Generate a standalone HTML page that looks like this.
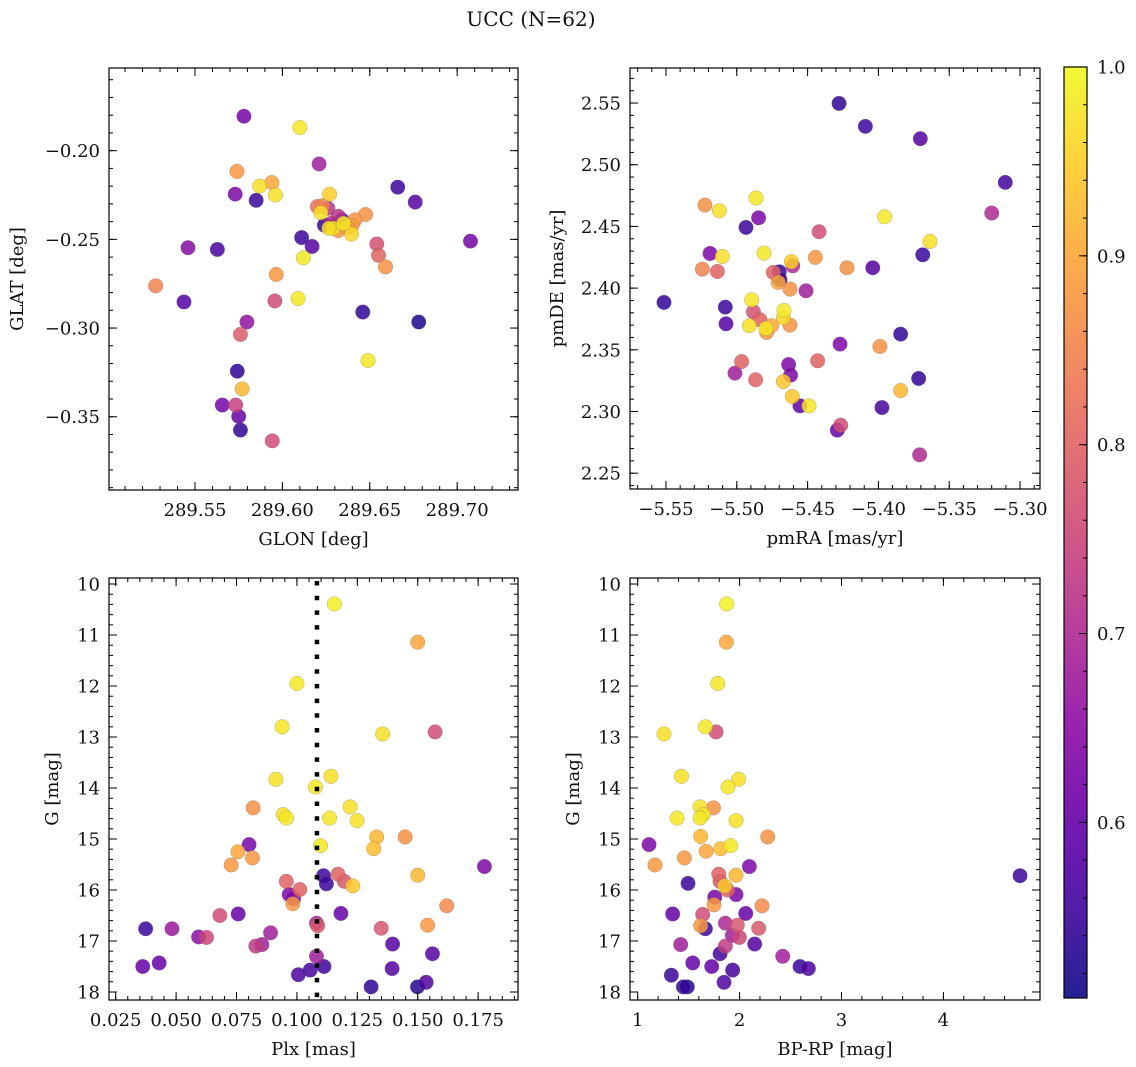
<!DOCTYPE html>
<html><head><meta charset="utf-8">
<style>
html,body{margin:0;padding:0;background:#fff;}
svg{display:block;font-family:"DejaVu Serif","Liberation Serif",serif;}
</style></head>
<body>
<svg id="fig" width="1136" height="1067" viewBox="0 0 1136 1067" xmlns="http://www.w3.org/2000/svg">
<text x="531" y="26" font-size="20" text-anchor="middle" fill="#111">UCC (N=62)</text>
</svg>
<script>
// ---- Panel 1: GLON vs GLAT ----
const glon=[289.578,289.610,289.621,289.574,289.587,289.594,289.596,289.573,289.585,289.666,289.676,289.627,289.620,289.623,289.626,289.622,289.624,289.632,289.634,289.6415,289.6476,289.640,289.628,289.629,289.632,289.635,289.6396,289.611,289.617,289.7076,289.654,289.655,289.659,289.546,289.5628,289.612,289.5965,289.5275,289.5437,289.5957,289.609,289.646,289.678,289.5797,289.576,289.649,289.5742,289.577,289.5656,289.5733,289.575,289.576,289.5942,289.6305,289.6371,289.6266];
const glat=[-0.1806,-0.187,-0.2075,-0.2117,-0.220,-0.218,-0.225,-0.2245,-0.228,-0.2206,-0.229,-0.2245,-0.2315,-0.231,-0.2325,-0.235,-0.242,-0.237,-0.239,-0.239,-0.236,-0.242,-0.241,-0.2438,-0.245,-0.241,-0.247,-0.249,-0.254,-0.251,-0.2526,-0.259,-0.2655,-0.2547,-0.2557,-0.2604,-0.2698,-0.2762,-0.2853,-0.2847,-0.2834,-0.291,-0.2966,-0.2966,-0.3036,-0.3183,-0.3243,-0.3343,-0.3434,-0.3434,-0.3498,-0.3575,-0.3636,-0.2419,-0.2434,-0.2438];
const probTL=[0.62,0.98,0.68,0.88,0.97,0.90,0.97,0.63,0.55,0.55,0.58,0.95,0.82,0.85,0.72,0.97,0.55,0.72,0.55,0.88,0.87,0.88,0.70,0.97,0.88,0.98,0.96,0.55,0.58,0.62,0.77,0.80,0.87,0.64,0.56,0.98,0.88,0.85,0.58,0.76,0.98,0.54,0.52,0.66,0.79,0.98,0.54,0.92,0.62,0.74,0.60,0.54,0.76,0.55,0.88,0.97];
const glonTicks=[289.55,289.60,289.65,289.70];
const glonTickLabels=["289.55","289.60","289.65","289.70"];
const glatTicks=[-0.20,-0.25,-0.30,-0.35];
const glatTickLabels=["−0.20","−0.25","−0.30","−0.35"];
// ---- Panel 2: pmRA vs pmDE ----
const pmra=[-5.4278,-5.4092,-5.3704,-5.3104,-5.3200,-5.5225,-5.5123,-5.4864,-5.4846,-5.4935,-5.3956,-5.4419,-5.3636,-5.3687,-5.5189,-5.5102,-5.4808,-5.4615,-5.4605,-5.4445,-5.4222,-5.4040,-5.5243,-5.5137,-5.4742,-5.4700,-5.4695,-5.4707,-5.4624,-5.4511,-5.5514,-5.5081,-5.5076,-5.4895,-5.4883,-5.4836,-5.4667,-5.4671,-5.4911,-5.4754,-5.4794,-5.4789,-5.4624,-5.3843,-5.4271,-5.3989,-5.4966,-5.5013,-5.4867,-5.4634,-5.4620,-5.4429,-5.4671,-5.3716,-5.3843,-5.4608,-5.4554,-5.4490,-5.3975,-5.4266,-5.4290,-5.3709];
const pmde=[2.5497,2.5311,2.5211,2.4857,2.4608,2.4673,2.4627,2.473,2.457,2.4492,2.4578,2.4457,2.4378,2.427,2.4281,2.4257,2.4284,2.4214,2.4181,2.4249,2.4165,2.4165,2.4154,2.4135,2.4127,2.4132,2.4068,2.4046,2.3992,2.3978,2.3884,2.3846,2.3711,2.3905,2.3808,2.3743,2.3819,2.3759,2.3695,2.3695,2.3673,2.3641,2.37,2.3627,2.3546,2.3527,2.3405,2.3311,2.3257,2.3381,2.3295,2.3411,2.3243,2.3268,2.317,2.3122,2.3046,2.3046,2.3032,2.2889,2.2849,2.2649];
const probTR=[.54,.55,.58,.56,.70,.87,.97,.98,.63,.55,.98,.76,.97,.55,.63,.97,.98,.95,.70,.88,.87,.58,.85,.80,.80,.55,.55,.90,.87,.68,.54,.55,.58,.98,.77,.80,.98,.96,.97,.90,.98,.88,.87,.54,.63,.87,.80,.68,.80,.63,.63,.80,.94,.54,.92,.94,.60,.98,.56,.76,.60,.70];
const pmraTicks=[-5.55,-5.50,-5.45,-5.40,-5.35,-5.30];
const pmraTickLabels=["−5.55","−5.50","−5.45","−5.40","−5.35","−5.30"];
const pmdeTicks=[2.55,2.50,2.45,2.40,2.35,2.30,2.25];
const pmdeTickLabels=["2.55","2.50","2.45","2.40","2.35","2.30","2.25"];
// ---- Panel 3: Plx vs G ----
const plx=[0.1155,0.150,0.100,0.0939,0.1355,0.1572,0.0913,0.1141,0.1077,0.0819,0.0943,0.0957,0.1135,0.1220,0.1249,0.1330,0.1448,0.1318,0.1098,0.0802,0.0756,0.0816,0.0728,0.1776,0.150,0.1110,0.1122,0.1170,0.1196,0.1231,0.0956,0.1012,0.0968,0.0986,0.0983,0.1620,0.1182,0.0757,0.0681,0.1081,0.1086,0.1541,0.1349,0.0374,0.0483,0.0891,0.0593,0.0626,0.1396,0.0830,0.0855,0.1561,0.1081,0.0362,0.0430,0.1112,0.1055,0.1006,0.1394,0.1307,0.1499,0.1535];
const gBL=[10.39,11.14,11.95,12.80,12.94,12.90,13.83,13.77,13.98,14.39,14.52,14.59,14.59,14.37,14.64,14.96,14.96,15.19,15.13,15.11,15.25,15.37,15.51,15.54,15.71,15.72,15.88,15.69,15.83,15.92,15.83,15.99,16.09,16.17,16.27,16.31,16.46,16.47,16.50,16.65,16.70,16.69,16.75,16.76,16.76,16.84,16.92,16.93,17.06,17.10,17.07,17.25,17.30,17.50,17.43,17.50,17.57,17.66,17.54,17.90,17.90,17.81];
const probBL=[.99,.90,.98,.98,.97,.76,.97,.97,.98,.87,.97,.98,.98,.97,.97,.92,.87,.93,.98,.62,.90,.88,.88,.63,.92,.55,.55,.80,.78,.94,.80,.80,.63,.62,.88,.86,.60,.60,.76,.70,.78,.88,.78,.55,.67,.68,.65,.75,.58,.73,.68,.58,.68,.60,.60,.55,.56,.57,.58,.54,.53,.57];
const plxMedian=[0.1083];
const plxTicks=[0.025,0.050,0.075,0.100,0.125,0.150,0.175];
const plxTickLabels=["0.025","0.050","0.075","0.100","0.125","0.150","0.175"];
const gTicks=[10,11,12,13,14,15,16,17,18];
const gTickLabels=["10","11","12","13","14","15","16","17","18"];
// ---- Panel 4: BP-RP vs G ----
const bprp=[1.873,1.870,1.785,1.664,1.258,1.769,1.429,1.991,1.886,1.743,1.612,1.644,1.612,1.386,1.965,1.618,2.276,1.111,1.913,1.815,1.671,1.458,1.170,2.096,1.965,1.795,1.494,1.808,1.854,1.880,1.965,1.756,1.749,2.220,1.343,2.060,1.638,1.860,1.978,1.664,1.618,2.187,1.929,1.998,2.148,1.422,1.860,1.808,2.423,1.540,1.726,2.593,2.675,1.932,1.330,1.847,1.448,1.487,4.752];
const gBR=[10.39,11.14,11.95,12.80,12.94,12.90,13.77,13.83,13.98,14.39,14.37,14.52,14.59,14.59,14.64,14.95,14.96,15.11,15.13,15.19,15.24,15.37,15.51,15.54,15.71,15.69,15.87,15.83,15.92,16.00,16.09,16.14,16.29,16.31,16.47,16.46,16.48,16.65,16.69,16.76,16.70,16.75,16.89,16.93,17.06,17.07,17.10,17.25,17.30,17.43,17.50,17.50,17.54,17.57,17.67,17.81,17.90,17.90,15.72];
const probBR=[.99,.90,.98,.98,.97,.76,.97,.97,.98,.87,.97,.97,.98,.98,.97,.92,.87,.63,.98,.93,.90,.88,.88,.63,.92,.80,.55,.78,.94,.80,.63,.62,.88,.86,.60,.60,.76,.70,.78,.55,.88,.78,.68,.75,.58,.68,.73,.56,.68,.60,.60,.55,.57,.56,.55,.57,.54,.53,.55];
const bprpTicks=[1,2,3,4];
const bprpTickLabels=["1","2","3","4"];
// ---- Colorbar ----
const cbTicks=[0.6,0.7,0.8,0.9,1.0];
const cbTickLabels=["0.6","0.7","0.8","0.9","1.0"];
const cbMin=0.507, cbMax=1.0;

const NS="http://www.w3.org/2000/svg";
const svg=document.getElementById('fig');
const FS=18;
function mk(tag,attrs,parent){const e=document.createElementNS(NS,tag);for(const k in attrs)e.setAttribute(k,attrs[k]);(parent||svg).appendChild(e);return e;}
const plasma=[[13,8,135],[65,4,157],[106,0,168],[143,13,164],[177,42,144],[204,71,120],[225,100,98],[242,132,75],[252,166,54],[252,206,37],[240,249,33]];
function cmap(p){let t=(p-cbMin)/(cbMax-cbMin);t=Math.max(0,Math.min(1,t));const f=t*10;const i=Math.min(9,Math.floor(f));const r=f-i;const a=plasma[i],b=plasma[i+1];return `rgb(${Math.round(a[0]+(b[0]-a[0])*r)},${Math.round(a[1]+(b[1]-a[1])*r)},${Math.round(a[2]+(b[2]-a[2])*r)})`;}

function panel(cfg){
  const g=mk('g',{});
  
  
  const {L,T,W,H}=cfg;
  const sx=v=>L+(v-cfg.x0)/(cfg.x1-cfg.x0)*W;
  const sy=v=>T+(v-cfg.y0)/(cfg.y1-cfg.y0)*H;
  const clip='clip-'+cfg.name;
  const cp=mk('clipPath',{id:clip},g);mk('rect',{x:L,y:T,width:W,height:H},cp);
  const pts=mk('g',{'clip-path':`url(#${clip})`},g);
  
  
  const n=Math.min(cfg.xs.length,cfg.ys.length,cfg.cs.length);
  const idx=[...Array(n).keys()].sort((a,b)=>cfg.cs[a]-cfg.cs[b]);
  for(const i of idx){
    const c=mk('circle',{cx:sx(cfg.xs[i]),cy:sy(cfg.ys[i]),r:7.3,fill:cmap(cfg.cs[i]),'fill-opacity':0.85,stroke:'#666','stroke-width':0.4,'stroke-opacity':0.6},pts);
    
    
  }
  if(cfg.vline){for(const v of cfg.vline){const l=mk('line',{x1:sx(v),x2:sx(v),y1:T+3,y2:T+H,stroke:'#000','stroke-width':4.5,'stroke-dasharray':'4.5 10.2'},g);
    
    }}
  const tk=mk('g',{stroke:'#000','stroke-width':1},g);
  for(let v=Math.ceil(Math.min(cfg.x0,cfg.x1)/cfg.xm-1e-6)*cfg.xm;v<=Math.max(cfg.x0,cfg.x1)+1e-9;v+=cfg.xm){const x=sx(v);mk('line',{x1:x,x2:x,y1:T+H,y2:T+H-4},tk);mk('line',{x1:x,x2:x,y1:T,y2:T+4},tk);}
  for(let v=Math.ceil(Math.min(cfg.y0,cfg.y1)/cfg.ym-1e-6)*cfg.ym;v<=Math.max(cfg.y0,cfg.y1)+1e-9;v+=cfg.ym){const y=sy(v);mk('line',{x1:L,x2:L+4,y1:y,y2:y},tk);mk('line',{x1:L+W,x2:L+W-4,y1:y,y2:y},tk);}
  cfg.xt.forEach((v,i)=>{const x=sx(v);mk('line',{x1:x,x2:x,y1:T+H,y2:T+H-8},tk);mk('line',{x1:x,x2:x,y1:T,y2:T+8},tk);
    const t=mk('text',{x:x,y:T+H+26,'font-size':FS,'text-anchor':'middle',fill:'#111'},g);t.textContent=cfg.xl[i];
    
    });
  cfg.yt.forEach((v,i)=>{const y=sy(v);mk('line',{x1:L,x2:L+8,y1:y,y2:y},tk);mk('line',{x1:L+W,x2:L+W-8,y1:y,y2:y},tk);
    const t=mk('text',{x:L-9,y:y+6.5,'font-size':FS,'text-anchor':'end',fill:'#111'},g);t.textContent=cfg.yl[i];
    
    });
  mk('rect',{x:L,y:T,width:W,height:H,fill:'none',stroke:'#000','stroke-width':1.2},g);
  const xt=mk('text',{x:L+W/2,y:T+H+55,'font-size':FS,'text-anchor':'middle',fill:'#111'},g);xt.textContent=cfg.xlab;
  
  
  const yx=cfg.ylabX, yy=T+H/2;
  const yt=mk('text',{x:yx,y:yy,'font-size':FS,'text-anchor':'middle',fill:'#111',transform:`rotate(-90 ${yx} ${yy})`},g);yt.textContent=cfg.ylab;
  
  
}
panel({name:'glon-glat-panel',L:109,T:68,W:409,H:422,x0:289.5008,x1:289.7348,y0:-0.1534,y1:-0.3913,xm:0.01,ym:0.01,
  xs:glon,ys:glat,cs:probTL,xt:glonTicks,xl:glonTickLabels,yt:glatTicks,yl:glatTickLabels,xlab:'GLON [deg]',ylab:'GLAT [deg]',ylabX:23});
panel({name:'pm-panel',L:630,T:68,W:410,H:421,x0:-5.5754,x1:-5.2859,y0:2.5784,y1:2.2372,xm:0.01,ym:0.01,
  xs:pmra,ys:pmde,cs:probTR,xt:pmraTicks,xl:pmraTickLabels,yt:pmdeTicks,yl:pmdeTickLabels,xlab:'pmRA [mas/yr]',ylab:'pmDE [mas/yr]',ylabX:563});
panel({name:'plx-g-panel',L:109,T:578,W:409,H:422,x0:0.02223,x1:0.1915,y0:9.882,y1:18.157,xm:0.005,ym:0.2,
  xs:plx,ys:gBL,cs:probBL,xt:plxTicks,xl:plxTickLabels,yt:gTicks,yl:gTickLabels,xlab:'Plx [mas]',ylab:'G [mag]',ylabX:58,vline:plxMedian});
panel({name:'cmd-panel',L:630,T:578,W:410,H:422,x0:0.9244,x1:4.948,y0:9.882,y1:18.157,xm:0.2,ym:0.2,
  xs:bprp,ys:gBR,cs:probBR,xt:bprpTicks,xl:bprpTickLabels,yt:gTicks,yl:gTickLabels,xlab:'BP-RP [mag]',ylab:'G [mag]',ylabX:579});

(function(){
  const L=1064,T=67,W=23,H=931;
  const g=mk('g',{});
  
  
  const defs=mk('defs',{},g);
  const lg=mk('linearGradient',{id:'cbg',x1:0,y1:1,x2:0,y2:0},defs);
  for(let k=0;k<=20;k++){const p=cbMin+(cbMax-cbMin)*k/20;mk('stop',{offset:(k/20),'stop-color':cmap(p),'stop-opacity':0.9},lg);}
  mk('rect',{x:L,y:T,width:W,height:H,fill:'url(#cbg)',stroke:'#000','stroke-width':1.2},g);
  const sy=v=>T+H-(v-cbMin)/(cbMax-cbMin)*H;
  for(let v=0.52;v<=1.0001;v+=0.02){const y=sy(v);mk('line',{x1:L+W,x2:L+W-4,y1:y,y2:y,stroke:'#000'},g);}
  cbTicks.forEach((v,i)=>{const y=sy(v);mk('line',{x1:L+W,x2:L+W-8,y1:y,y2:y,stroke:'#000'},g);
    const t=mk('text',{x:L+W+10,y:y+6.5,'font-size':FS,fill:'#111'},g);t.textContent=cbTickLabels[i];
    
    });
})();
</script>
</body></html>
